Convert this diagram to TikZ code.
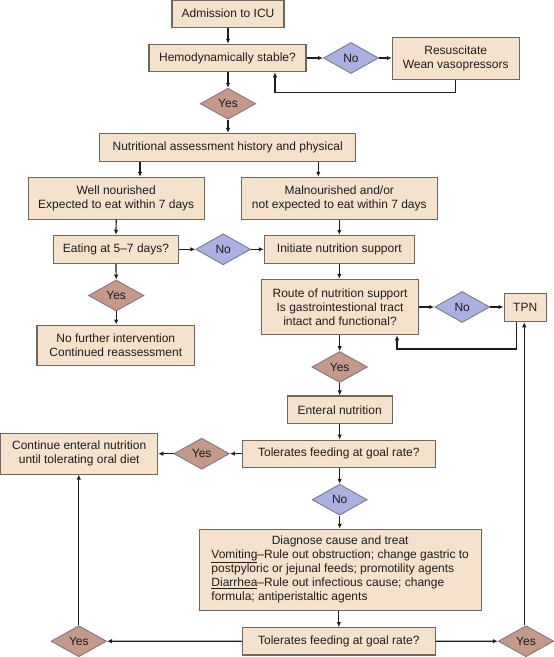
\documentclass[tikz,border=0pt]{standalone}
\usepackage{fontspec}
\setmainfont{Liberation Sans}
\usetikzlibrary{shapes.geometric,arrows.meta}
\definecolor{boxfill}{RGB}{245,226,205}
\definecolor{boxline}{RGB}{112,102,96}
\definecolor{dline}{RGB}{128,122,122}
\definecolor{yesfill}{RGB}{196,152,138}
\definecolor{nofill}{RGB}{170,176,226}
\definecolor{ink}{RGB}{30,28,28}
\tikzset{
  base/.style={font=\fontsize{12}{13.8}\selectfont, text=ink, inner sep=0pt},
  box/.style={base, rectangle, draw=boxline, line width=1.1pt, fill=boxfill, align=center},
  yesd/.style={base, diamond, draw=dline, line width=0.9pt, fill=yesfill, minimum width=55.5pt, minimum height=31pt},
  nod/.style={base, diamond, draw=dline, line width=0.9pt, fill=nofill, minimum width=55pt, minimum height=31pt},
  arr/.style={draw=ink, line width=1.2pt, -{Latex[length=5pt,width=4.5pt]}},
}
\begin{document}
\begin{tikzpicture}[x=1pt,y=-1pt]
\useasboundingbox (0,0) rectangle (554,657);
% boxes
\node[box, minimum width=112pt, minimum height=27pt] (adm) at (228,13.7) {Admission to ICU};
\node[box, minimum width=157pt, minimum height=27.4pt] (hemo) at (227.5,58) {Hemodynamically stable?};
\node[nod] (no1) at (351,58) {No};
\node[box, minimum width=126.7pt, minimum height=41.6pt] (resus) at (455.7,58.5) {Resuscitate\\Wean vasopressors};
\node[yesd] (yes1) at (228,103.7) {Yes};
\node[box, minimum width=256pt, minimum height=27.7pt] (nutr) at (227.7,147.2) {Nutritional assessment history and physical};
\node[box, minimum width=175.7pt, minimum height=41.7pt] (well) at (116.2,198.2) {Well nourished\\Expected to eat within 7 days};
\node[box, minimum width=196pt, minimum height=41.7pt] (mal) at (339.3,198.2) {Malnourished and/or\\not expected to eat within 7 days};
\node[box, minimum width=125.4pt, minimum height=28pt] (eat) at (116,249.3) {Eating at 5–7 days?};
\node[nod] (no2) at (223.2,249.3) {No};
\node[box, minimum width=150pt, minimum height=28pt] (init) at (339.3,249.3) {Initiate nutrition support};
\node[yesd] (yes2) at (116.2,295.5) {Yes};
\node[box, minimum width=157.7pt, minimum height=40.3pt] (nofur) at (115.8,345.2) {No further intervention\\Continued reassessment};
\node[box, minimum width=156.6pt, minimum height=55.4pt] (route) at (340,307) {Route of nutrition support\\Is gastrointestional tract\\intact and functional?};
\node[nod] (no3) at (462.2,307) {No};
\node[box, minimum width=42.3pt, minimum height=28.4pt] (tpn) at (525.2,307.5) {TPN};
\node[yesd] (yes3) at (339.7,367) {Yes};
\node[box, minimum width=104.7pt, minimum height=27.7pt] (ent) at (339.7,409.8) {Enteral nutrition};
\node[box, minimum width=193pt, minimum height=27.3pt] (tol1) at (338.8,453.7) {Tolerates feeding at goal rate?};
\node[yesd] (yes4) at (201.7,453.7) {Yes};
\node[box, minimum width=157pt, minimum height=40.7pt] (cont) at (79.2,453.7) {Continue enteral nutrition\\until tolerating oral diet};
\node[nod] (no4) at (339.7,499.7) {No};
\node[box, minimum width=282.3pt, minimum height=81.4pt] (diag) at (340.2,570) {\begin{tabular}{@{}l@{}}\multicolumn{1}{@{}c@{}}{Diagnose cause and treat}\\\underline{Vomiting}–Rule out obstruction; change gastric to\\postpyloric or jejunal feeds; promotility agents\\\underline{Diarrhea}–Rule out infectious cause; change\\formula; antiperistaltic agents\end{tabular}};
\node[box, minimum width=193pt, minimum height=27.3pt] (tol2) at (338.8,641.3) {Tolerates feeding at goal rate?};
\node[yesd] (yes5) at (526,641.2) {Yes};
\node[yesd] (yes6) at (78.8,641.2) {Yes};
% helper coordinates
\coordinate (hl) at (275,92.7);
\coordinate (wl) at (140,0);
\coordinate (ml) at (318.3,0);
\coordinate (tl) at (516.3,0);
\coordinate (rl) at (397,349);
\coordinate (ul) at (524.3,0);
% connectors
\draw[arr] (adm.south) -- (adm.south |- hemo.north);
\draw[arr] (hemo.east) -- (no1.west);
\draw[arr] (no1.east) -- (resus.west |- no1.east);
\draw[arr] (resus.south) |- (hl) -- (hl |- hemo.south);
\draw[arr] (yes1.north |- hemo.south) -- (yes1.north);
\draw[arr] (yes1.south) -- (yes1.south |- nutr.north);
\draw[arr] (nutr.south -| wl) -- (well.north -| wl);
\draw[arr] (nutr.south -| ml) -- (mal.north -| ml);
\draw[arr] (well.south) -- (eat.north);
\draw[arr] (mal.south) -- (init.north);
\draw[arr] (eat.east) -- (no2.west);
\draw[arr] (no2.east) -- (init.west);
\draw[arr] (eat.south) -- (yes2.north);
\draw[arr] (yes2.south) -- (yes2.south |- nofur.north);
\draw[arr] (init.south) -- (init.south |- route.north);
\draw[arr] (route.east |- no3.west) -- (no3.west);
\draw[arr] (no3.east) -- (tpn.west |- no3.east);
\draw[arr] (tpn.south -| tl) |- (rl) -- (rl |- route.south);
\draw[arr] (yes3.north |- route.south) -- (yes3.north);
\draw[arr] (yes3.south) -- (ent.north);
\draw[arr] (ent.south) -- (ent.south |- tol1.north);
\draw[arr] (tol1.west) -- (yes4.east);
\draw[arr] (yes4.west) -- (cont.east);
\draw[arr] (no4.north |- tol1.south) -- (no4.north);
\draw[arr] (no4.south) -- (no4.south |- diag.north);
\draw[arr] (diag.south -| tol2.north) -- (tol2.north);
\draw[arr] (tol2.east) -- (yes5.west);
\draw[arr] (tol2.west) -- (yes6.east);
\draw[arr] (yes6.north) -- (yes6.north |- cont.south);
\draw[arr] (yes5.north -| ul) -- (tpn.south -| ul);
\end{tikzpicture}
\end{document}
